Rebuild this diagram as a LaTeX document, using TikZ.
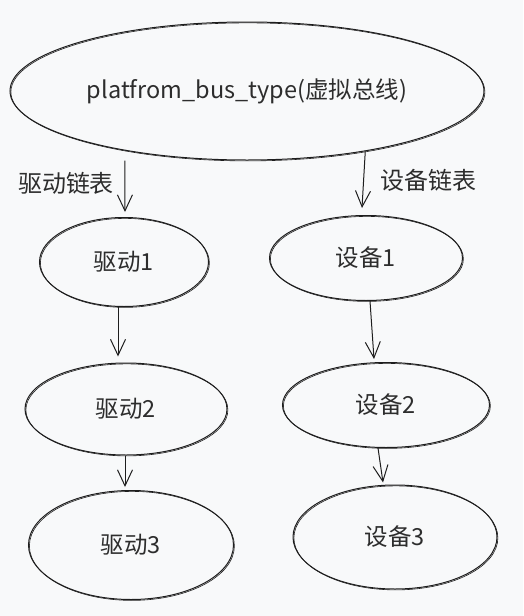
\documentclass[tikz,border=0pt]{standalone}
\usepackage{fontspec}
\setmainfont{Noto Sans CJK SC}
\usetikzlibrary{shapes.geometric,arrows.meta}
\definecolor{bg}{RGB}{248,249,250}
\definecolor{ink}{RGB}{30,30,30}
\definecolor{txt}{RGB}{45,45,45}
\begin{document}
\begin{tikzpicture}[x=1pt,y=1pt,
  sk/.style={ellipse, draw=ink, line width=1pt, inner sep=0pt, text=txt,
    font=\fontsize{23.5}{27}\selectfont,
    preaction={draw=ink, line width=0.6pt, transform canvas={xshift=0.9pt,yshift=-0.9pt}}},
  lbl/.style={text=txt, inner sep=0pt, font=\fontsize{24}{27}\selectfont},
  arr/.style={draw=ink, line width=1pt, -{Straight Barb[length=16pt,width=15pt,line width=1pt]}}]
\fill[bg] (0,0) rectangle (523,-616);
\useasboundingbox (0,0) rectangle (523,-616);
\node[sk, minimum width=474pt, minimum height=138pt] (bus) at (247,-91) {platfrom\_bus\_type(虚拟总线)};
\node[sk, minimum width=169pt, minimum height=89pt] (drv1) at (124,-262) {驱动1};
\node[sk, minimum width=193pt, minimum height=85pt] (dev1) at (366,-258) {设备1};
\node[sk, minimum width=202pt, minimum height=92pt] (drv2) at (126,-409) {驱动2};
\node[sk, minimum width=207pt, minimum height=85pt] (dev2) at (386,-405) {设备2};
\node[sk, minimum width=205pt, minimum height=109pt] (drv3) at (131,-545) {驱动3};
\node[sk, minimum width=204pt, minimum height=104pt] (dev3) at (395,-537) {设备3};
\node[lbl] (l1) at (66,-183) {驱动链表};
\node[lbl] (l2) at (428,-180) {设备链表};
\draw[arr] ([yshift=-10pt]bus.-154) -- ([xshift=1pt,yshift=5pt]drv1.north);
\draw[arr] (bus.-27.6) -- ([xshift=-4pt,yshift=7pt]dev1.north);
\draw[arr] ([xshift=-6pt]drv1.south) -- ([xshift=-8pt,yshift=6pt]drv2.north);
\draw[arr] ([xshift=4pt]dev1.south) -- ([xshift=-12pt,yshift=3pt]dev2.north);
\draw[arr] ([xshift=-1pt]drv2.south) -- ([xshift=-6pt,yshift=3pt]drv3.north);
\draw[arr] ([xshift=-8pt]dev2.south) -- ([xshift=-12pt,yshift=2pt]dev3.north);
\end{tikzpicture}
\end{document}
